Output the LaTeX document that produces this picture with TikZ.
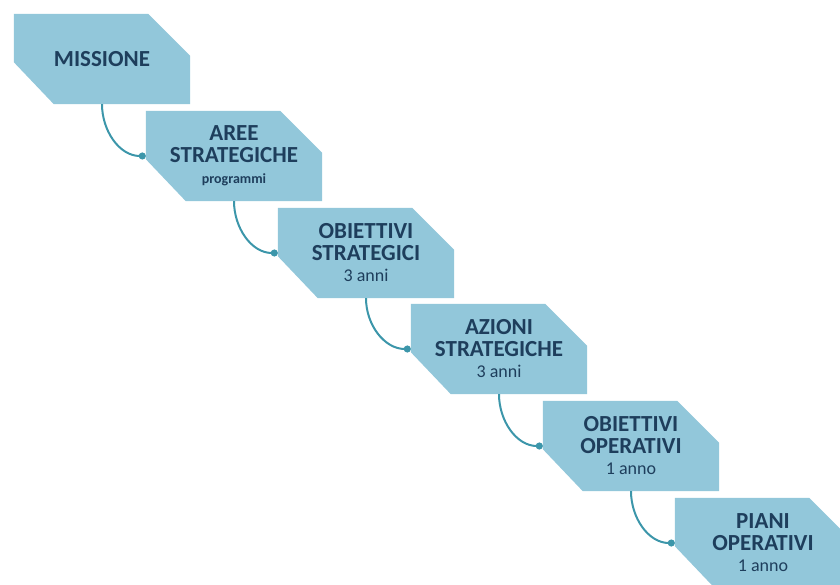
\documentclass[tikz,border=0pt]{standalone}
\usepackage{fontspec}
\setmainfont{Carlito}
\usetikzlibrary{
    arrows.meta,
    positioning,
    backgrounds
}
\definecolor{boxblue}{RGB}{146, 199, 218}
\definecolor{textnavy}{RGB}{30, 62, 92}
\definecolor{linkteal}{RGB}{60, 150, 170}
\newcommand{\subline}[1]{{\fontsize{18}{19}\selectfont\mdseries #1}}

\begin{document}
\begin{tikzpicture}[
        x=1pt, y=-1pt,
        stage/.style={rectangle, minimum width=176pt, minimum height=90pt, inner sep=0pt,
            align=center, text=textnavy, font=\fontsize{23}{21.5}\selectfont\bfseries},
        link/.style={-{Circle[length=7pt]}, draw=linkteal, line width=2pt}
    ]
        \useasboundingbox (0,0) rectangle (840,585);
        \clip (0,0) rectangle (840,585);

        % Stages
        \node[stage] (miss) at (102,59) {MISSIONE};
        \node[stage] (aree) at (234,156) {AREE\\STRATEGICHE\\{\fontsize{14}{17}\selectfont programmi}};
        \node[stage] (obst) at (366,253) {OBIETTIVI\\STRATEGICI\\\subline{3 anni}};
        \node[stage] (azst) at (499,349) {AZIONI\\STRATEGICHE\\\subline{3 anni}};
        \node[stage] (obop) at (631,446) {OBIETTIVI\\OPERATIVI\\\subline{1 anno}};
        \node[stage] (piop) at (763,543) {PIANI\\OPERATIVI\\\subline{1 anno}};

        % Chamfered shapes behind the text
        \begin{scope}[on background layer]
            \foreach \n in {miss, aree, obst, azst, obop, piop}
                \fill[boxblue] (\n.north west) -- ([xshift=-42pt]\n.north east)
                    -- ([yshift=-42pt]\n.north east) -- (\n.south east)
                    -- ([xshift=40pt]\n.south west) -- ([yshift=42pt]\n.south west) -- cycle;
        \end{scope}

        % Links
        \draw[link] (miss.south) to[out=-90, in=180] (aree.west);
        \draw[link] (aree.south) to[out=-90, in=180] (obst.west);
        \draw[link] (obst.south) to[out=-90, in=180] (azst.west);
        \draw[link] (azst.south) to[out=-90, in=180] (obop.west);
        \draw[link] (obop.south) to[out=-90, in=180] (piop.west);
    \end{tikzpicture}
\end{document}
